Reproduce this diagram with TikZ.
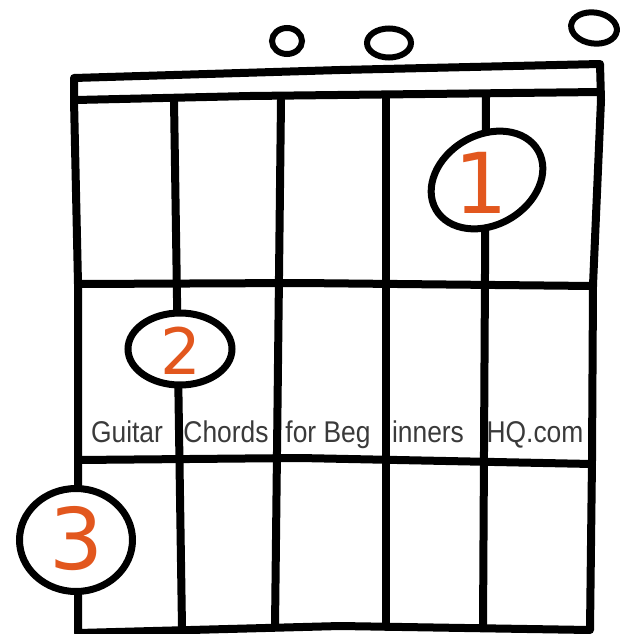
\documentclass[tikz,border=0pt]{standalone}
\usepackage{fontspec}
\setmainfont{Liberation Sans}
\newfontfamily\digitfont{DejaVu Sans}
\usetikzlibrary{shapes.geometric}
\definecolor{fingerorange}{HTML}{E2571E}
\definecolor{inkgray}{HTML}{3A3A3A}
\begin{document}
\begin{tikzpicture}[x=1pt,y=-1pt,
  gridline/.style={line width=8pt, line cap=round, line join=round},
  finger/.style={ellipse, draw, line width=7pt, fill=white, inner sep=0pt, outer sep=0pt},
  opencirc/.style={ellipse, draw, line width=6pt, inner sep=0pt, outer sep=0pt},
  fnum/.style={text=fingerorange, inner sep=0pt},
  word/.style={text=inkgray, inner sep=0pt, anchor=base, font=\fontsize{30}{30}\selectfont, xscale=0.88, transform shape}]
\useasboundingbox (0,0) rectangle (621,634);
% outer frame
\draw[gridline] (74,78) -- (340,70) -- (600,64) -- (601,100) -- (593,285) -- (592,460) -- (590,630)
  -- (340,626) -- (78,633) -- (78,460) -- (78,284) -- (74,100) -- cycle;
% nut line
\draw[gridline] (76,100) -- (250,96) -- (600,92);
% frets
\draw[gridline] (78,284) -- (300,283) -- (593,286);
\draw[gridline] (78,460) -- (300,458) -- (592,464);
% strings
\draw[gridline] (174,100) -- (182,628);
\draw[gridline] (281,100) -- (275,627);
\draw[gridline] (386,97) -- (386,627);
\draw[gridline] (486,95) -- (483,628);
% open strings
\node[opencirc, minimum width=30pt, minimum height=26pt] (o1) at (287,41) {};
\node[opencirc, minimum width=44pt, minimum height=29pt] (o2) at (389,43) {};
\node[opencirc, minimum width=46pt, minimum height=31pt, rotate=-8] (o3) at (594,28) {};
% fingers
\node[finger, minimum width=118pt, minimum height=90pt, rotate=30] (f1) at (487,180) {};
\node[finger, minimum width=104pt, minimum height=72pt] (f2) at (180,349) {};
\node[finger, minimum width=113pt, minimum height=103pt] (f3) at (76,540) {};
\node[fnum, font=\digitfont\fontsize{84}{84}\selectfont] (n1) at (481,183) {1};
\node[fnum, font=\digitfont\fontsize{64}{64}\selectfont] (n2) at (181,351) {2};
\node[fnum, font=\digitfont\fontsize{85}{85}\selectfont] (n3) at (77,539) {3};
% watermark text
\node[word] (w1) at (127,442) {Guitar};
\node[word] (w2) at (226,442) {Chords};
\node[word] (w3) at (328,442) {for Beg};
\node[word] (w4) at (428,442) {inners};
\node[word] (w5) at (535,442) {HQ.com};
\end{tikzpicture}
\end{document}
